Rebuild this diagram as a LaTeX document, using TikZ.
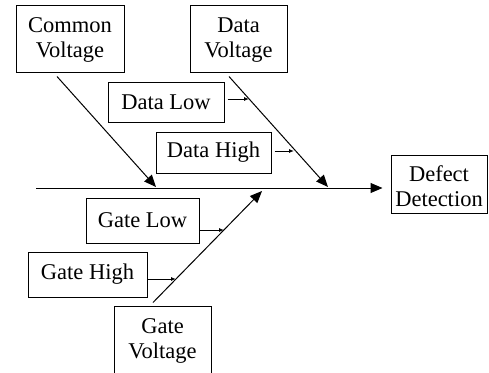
\documentclass[tikz,border=0pt]{standalone}
\usepackage{fontspec}
\setmainfont{Liberation Serif}
\usetikzlibrary{arrows.meta}
% two centred lines, 25pt apart, moved up or down by #1 (box size kept)
\newcommand\pairtext[3]{\raisebox{#1}[\height][\depth]{\begin{tabular}{@{}c@{}}#2\\#3\end{tabular}}}
\begin{document}
\begin{tikzpicture}[x=1pt,y=-1pt,
  cause/.style={draw,line width=1pt,inner sep=0pt,align=center,
    font=\fontsize{22.5}{25}\selectfont},
  bone/.style={line width=1pt,-{Triangle[length=12pt,width=10pt]}},
  twig/.style={line width=0.9pt,-{Latex[length=5pt,width=4pt]}}]
\useasboundingbox (0,0) rectangle (489,372);
% boxes
\node[cause,minimum width=108pt,minimum height=67pt] (cv) at (70,38.5) {\pairtext{-1.5pt}{Common}{Voltage}};
\node[cause,minimum width=97pt,minimum height=67pt] (dv) at (238.5,38.5) {\pairtext{-1.5pt}{Data}{Voltage}};
\node[cause,minimum width=116pt,minimum height=40pt] (dl) at (166,102) {Data Low};
\node[cause,minimum width=115pt,minimum height=41pt] (dh) at (213.5,152.5) {Data High};
\node[cause,minimum width=96pt,minimum height=58pt] (dd) at (439,184) {\pairtext{-5pt}{Defect}{Detection}};
\node[cause,minimum width=113pt,minimum height=45pt] (gl) at (142.5,220.5) {Gate Low};
\node[cause,minimum width=119pt,minimum height=45pt] (gh) at (87.5,274.5) {Gate High};
\node[cause,minimum width=97pt,minimum height=72pt] (gv) at (162.5,342) {\pairtext{1.5pt}{Gate}{Voltage}};
% spine and bone tips
\coordinate (tail) at (36,188);
\coordinate (cvtip) at (156,187);
\coordinate (dvtip) at (328,187);
\coordinate (gvtip) at (262,191);
\coordinate (dltip) at (249,99);
\coordinate (dhtip) at (294,151);
\coordinate (gltip) at (224,230);
\coordinate (ghtip) at (176,279);
\draw[bone] (tail) -- ([shift={(-8,4)}]dd.west);
\draw[bone] ([shift={(-13,4)}]cv.south) -- (cvtip);
\draw[bone] ([shift={(-9.5,4)}]dv.south) -- (dvtip);
\draw[bone] ([shift={(-9.5,-3)}]gv.north) -- (gvtip);
% sub-causes
\draw[twig] ([shift={(3,-3)}]dl.east) -- (dltip);
\draw[twig] ([shift={(3,-1.5)}]dh.east) -- (dhtip);
\draw[twig] ([shift={(0,9.5)}]gl.east) -- (gltip);
\draw[twig] ([shift={(0,4.5)}]gh.east) -- (ghtip);
\end{tikzpicture}
\end{document}
